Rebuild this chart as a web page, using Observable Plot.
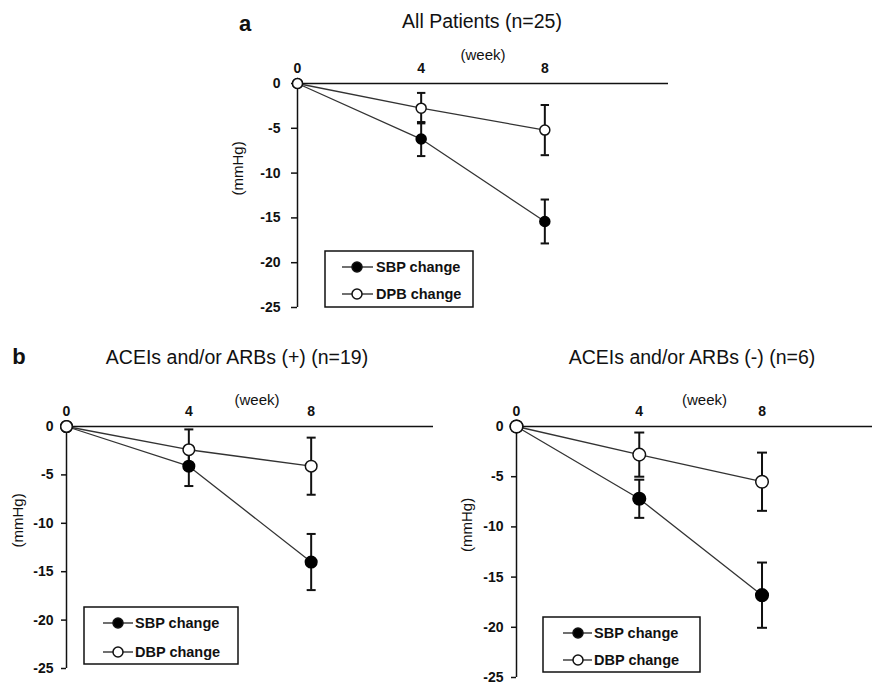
<!DOCTYPE html>
<html><head><meta charset="utf-8">
<script src="https://cdn.jsdelivr.net/npm/d3@7"></script>
<script src="https://cdn.jsdelivr.net/npm/@observablehq/plot@0.6"></script>
<style>
body{margin:0;background:#fff;font-family:"Liberation Sans",Arial,sans-serif;}
#root{position:relative;width:872px;height:684px;overflow:hidden;background:#fff;}
.abs{position:absolute;}
.t{position:absolute;white-space:nowrap;color:#111;line-height:1;transform:translate(-50%,-50%);}
</style></head><body><div id="root"></div>
<script>
// ---- data ----
const weeks = [0, 4, 8];
const xTicks = [0, 4, 8];
const yTicks = [0, -5, -10, -15, -20, -25];
const panelLetters = ["a", "b"];
const titles = ["All Patients (n=25)", "ACEIs and/or ARBs (+) (n=19)", "ACEIs and/or ARBs (-) (n=6)"];
const legendA = ["SBP change", "DPB change"];
const legendB = ["SBP change", "DBP change"];
const xLabel = "(week)";
const yLabel = "(mmHg)";

// panel a: All patients
const aSBP = [0, -6.2, -15.4];
const aSBPerr = [0, 1.9, 2.45];
const aDBP = [0, -2.75, -5.2];
const aDBPerr = [0, 1.7, 2.8];
// panel b left: ACEIs and/or ARBs (+)
const bpSBP = [0, -4.1, -14.0];
const bpSBPerr = [0, 2.05, 2.9];
const bpDBP = [0, -2.4, -4.1];
const bpDBPerr = [0, 2.1, 2.95];
// panel b right: ACEIs and/or ARBs (-)
const bmSBP = [0, -7.2, -16.8];
const bmSBPerr = [0, 1.9, 3.25];
const bmDBP = [0, -2.8, -5.5];
const bmDBPerr = [0, 2.2, 2.9];

const FONT = '"Liberation Sans", Arial, sans-serif';
const root = document.getElementById("root");

function label(x, y, str, size, weight) {
  const d = document.createElement("div");
  d.className = "t";
  d.style.left = x + "px"; d.style.top = y + "px";
  d.style.fontSize = size + "px"; d.style.fontWeight = weight || "normal";
  d.textContent = str;
  root.appendChild(d);
}

const capSym = {draw(ctx, size) { const h = Math.sqrt(size / Math.PI); ctx.moveTo(-h, 0); ctx.lineTo(h, 0); }};

function panel(cfg) {
  const rows = [];
  weeks.forEach((w, i) => {
    rows.push({s: "SBP", week: w, v: cfg.sbp[i], e: cfg.sbpErr[i]});
    rows.push({s: "DBP", week: w, v: cfg.dbp[i], e: cfg.dbpErr[i]});
  });
  const err = rows.filter(d => d.e > 0);
  const svg = Plot.plot({
    width: cfg.w, height: cfg.h,
    marginLeft: cfg.ml, marginRight: cfg.mr, marginTop: cfg.mt, marginBottom: cfg.mb,
    x: {type: "linear", domain: [0, cfg.xMax]},
    y: {type: "linear", domain: [-25, 0]},
    style: {background: "none", color: "#111", fontFamily: FONT, overflow: "visible"},
    marks: [
      Plot.ruleY([0], {stroke: "#111", strokeWidth: 1.5}),
      Plot.ruleX([0], {stroke: "#111", strokeWidth: 1.5}),
      Plot.axisY({ticks: yTicks, tickSize: cfg.ts, tickPadding: cfg.tp, tickFormat: d => String(d),
        label: null, fontSize: 14, fontWeight: "bold", strokeWidth: 1.5}),
      Plot.axisX({anchor: "top", ticks: xTicks, tickSize: 0, tickPadding: 11, tickFormat: d => String(d),
        label: null, fontSize: 14, fontWeight: "bold"}),
      Plot.text([xLabel], {frameAnchor: "top", dy: cfg.wdy, dx: cfg.wdx, fontSize: 15}),
      Plot.text([yLabel], {frameAnchor: "left", rotate: -90, dx: -cfg.mmOff, fontSize: 15}),
      Plot.line(rows, {x: "week", y: "v", z: "s", stroke: "#333", strokeWidth: 1.3}),
      Plot.ruleX(err, {x: "week", y1: d => d.v - d.e, y2: d => d.v + d.e, stroke: "#111", strokeWidth: 2}),
      Plot.dot(err, {x: "week", y: d => d.v + d.e, symbol: capSym, r: cfg.cap, fill: "none", stroke: "#111", strokeWidth: 2}),
      Plot.dot(err, {x: "week", y: d => d.v - d.e, symbol: capSym, r: cfg.cap, fill: "none", stroke: "#111", strokeWidth: 2}),
      Plot.dot(rows.filter(d => d.s === "SBP"), {x: "week", y: "v", r: cfg.r, fill: "#000", stroke: "#000"}),
      Plot.dot(rows.filter(d => d.s === "DBP"), {x: "week", y: "v", r: cfg.r, fill: "#fff", stroke: "#111", strokeWidth: 1.5})
    ]
  });
  svg.classList.add("abs");
  svg.style.left = cfg.left + "px"; svg.style.top = cfg.top + "px";
  root.appendChild(svg);
}

function legend(cfg, names) {
  const svg = d3.create("svg").attr("class", "abs").attr("width", cfg.w + 4).attr("height", cfg.h + 4)
    .style("left", (cfg.x - 2) + "px").style("top", (cfg.y - 2) + "px");
  const g = svg.append("g").attr("transform", "translate(2,2)");
  g.append("rect").attr("width", cfg.w).attr("height", cfg.h).attr("fill", "#fff").attr("stroke", "#111").attr("stroke-width", 1.5);
  names.forEach((n, i) => {
    const y = cfg.rows[i];
    g.append("line").attr("x1", cfg.lx0).attr("x2", cfg.lx1).attr("y1", y).attr("y2", y).attr("stroke", "#222").attr("stroke-width", 1.3);
    g.append("circle").attr("cx", cfg.mx).attr("cy", y).attr("r", cfg.r)
      .attr("fill", i === 0 ? "#000" : "#fff").attr("stroke", "#111").attr("stroke-width", 1.5);
    g.append("text").attr("x", cfg.tx).attr("y", y).attr("dy", "0.35em").attr("font-family", FONT)
      .attr("font-size", 14.5).attr("font-weight", "bold").attr("fill", "#111").text(n);
  });
  root.appendChild(svg.node());
}

panel({left: 200, top: 0, w: 480, h: 330, ml: 97, mr: 12, mt: 83, mb: 23, xMax: 12,
  sbp: aSBP, sbpErr: aSBPerr, dbp: aDBP, dbpErr: aDBPerr, ts: 6, tp: 11, wdy: -34, wdx: 0, mmOff: 59, r: 5, cap: 4.2});
panel({left: 0, top: 330, w: 440, h: 354, ml: 66, mr: 7, mt: 96, mb: 16, xMax: 12,
  sbp: bpSBP, sbpErr: bpSBPerr, dbp: bpDBP, dbpErr: bpDBPerr, ts: 5, tp: 8, wdy: -32, wdx: 7, mmOff: 48, r: 5.8, cap: 4.5});
panel({left: 440, top: 330, w: 432, h: 354, ml: 76, mr: 0, mt: 96, mb: 7, xMax: 11.6,
  sbp: bmSBP, sbpErr: bmSBPerr, dbp: bmDBP, dbpErr: bmDBPerr, ts: 5, tp: 8, wdy: -32, wdx: 10, mmOff: 49, r: 6.3, cap: 5});

legend({x: 325, y: 251, w: 148, h: 56, rows: [16, 43], lx0: 17, lx1: 48, mx: 32, tx: 51, r: 5}, legendA);
legend({x: 84, y: 607, w: 154, h: 57, rows: [16, 45], lx0: 19, lx1: 49, mx: 34, tx: 51, r: 5}, legendB);
legend({x: 543, y: 617, w: 157, h: 55, rows: [16, 43], lx0: 20, lx1: 49, mx: 35, tx: 51, r: 5}, legendB);

label(245, 24, panelLetters[0], 22, "bold");
label(19, 357, panelLetters[1], 22, "bold");
label(482, 22, titles[0], 19.5);
label(237, 358, titles[1], 19.5);
label(692, 358, titles[2], 19.5);
</script>
</body></html>
